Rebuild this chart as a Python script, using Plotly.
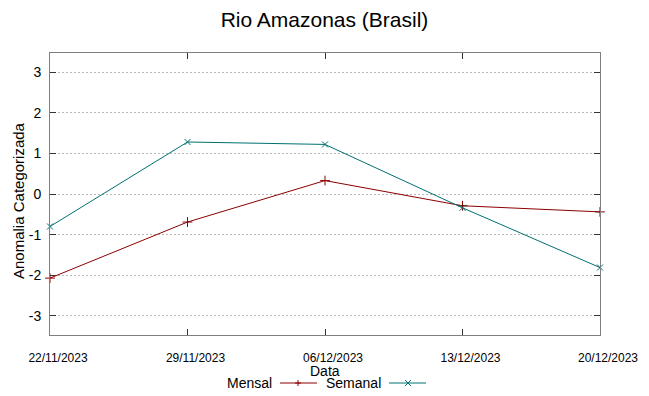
import plotly.graph_objects as go

dates = ["2023-11-22", "2023-11-29", "2023-12-06", "2023-12-13", "2023-12-20"]
date_labels = ["22/11/2023", "29/11/2023", "06/12/2023", "13/12/2023", "20/12/2023"]
mensal = [-2.07, -0.69, 0.33, -0.29, -0.44]
semanal = [-0.80, 1.28, 1.22, -0.34, -1.81]
y_ticks = [-3, -2, -1, 0, 1, 2, 3]

W, H = 649, 396
L, R, T, B = 50, 49, 53, 61
PW, PH = W - L - R, H - T - B

def px(x):
    return (x - L) / PW

def py(y):
    return (H - B - y) / PH

RED = "#8b0000"
TEAL = "#007070"
FONT = "Liberation Sans, Arial, sans-serif"

fig = go.Figure()
fig.add_trace(go.Scatter(x=dates, y=mensal, mode="lines+markers", name="Mensal",
                         line=dict(color=RED, width=1),
                         marker=dict(symbol="cross-thin", size=7, line=dict(color=RED, width=1)),
                         cliponaxis=False, showlegend=False))
fig.add_trace(go.Scatter(x=dates, y=semanal, mode="lines+markers", name="Semanal",
                         line=dict(color=TEAL, width=1),
                         marker=dict(symbol="x-thin", size=6, line=dict(color=TEAL, width=1)),
                         cliponaxis=False, showlegend=False))

shapes = []
annotations = []

# Legend (gnuplot style: text then sample)
legend_y = 383
for label, text_right, x0, x1, xm, color, kind in [
    ("Mensal", 274, 280, 317, 298, RED, "+"),
    ("Semanal", 383, 389, 426, 408, TEAL, "x"),
]:
    annotations.append(dict(text=label, x=px(text_right), y=py(legend_y), xref="paper", yref="paper",
                            xanchor="right", yanchor="middle", showarrow=False,
                            font=dict(family=FONT, size=14, color="black")))
    shapes.append(dict(type="line", xref="paper", yref="paper", x0=px(x0), x1=px(x1),
                       y0=py(legend_y), y1=py(legend_y), line=dict(color=color, width=1)))
    s = 3
    if kind == "+":
        segs = [((xm - s, legend_y), (xm + s, legend_y)), ((xm, legend_y - s), (xm, legend_y + s))]
    else:
        segs = [((xm - s, legend_y - s), (xm + s, legend_y + s)), ((xm - s, legend_y + s), (xm + s, legend_y - s))]
    for (a, b), (c, d) in segs:
        shapes.append(dict(type="line", xref="paper", yref="paper", x0=px(a), y0=py(b),
                           x1=px(c), y1=py(d), line=dict(color=color, width=1)))

annotations.append(dict(text="Data", x=px(325), y=py(371), xref="paper", yref="paper",
                        xanchor="center", yanchor="middle", showarrow=False,
                        font=dict(family=FONT, size=14, color="black")))
annotations.append(dict(text="Anomalia Categorizada", x=px(18), y=py(201), xref="paper", yref="paper",
                        xanchor="center", yanchor="middle", textangle=-90, showarrow=False,
                        font=dict(family=FONT, size=15, color="black")))

fig.update_layout(
    width=W, height=H,
    margin=dict(l=L, r=R, t=T, b=B, autoexpand=False),
    paper_bgcolor="white", plot_bgcolor="white",
    title=dict(text="Rio Amazonas (Brasil)", x=0.5, xanchor="center", y=1 - 20 / H, yanchor="middle",
               font=dict(family=FONT, size=21, color="black")),
    font=dict(family=FONT, color="black"),
    shapes=shapes, annotations=annotations,
    showlegend=False,
)
fig.update_xaxes(type="date", range=[dates[0], dates[-1]], tickvals=dates, ticktext=date_labels,
                 automargin=False,
                 showgrid=False, zeroline=False, showline=True, linecolor="#7f7f7f", linewidth=1,
                 mirror="ticks", ticks="inside", ticklen=6, tickcolor="#333333",
                 tickfont=dict(family=FONT, size=12, color="black"), ticklabelstandoff=12,
                 ticklabelshift=8)
fig.update_yaxes(range=[-3.47, 3.47], tickvals=y_ticks, ticktext=[str(v) for v in y_ticks],
                 automargin=False,
                 showgrid=True, gridcolor="#b8b8b8", griddash="2px,2px", gridwidth=1, zeroline=False,
                 showline=True, linecolor="#7f7f7f", linewidth=1,
                 mirror="ticks", ticks="inside", ticklen=6, tickcolor="#333333",
                 tickfont=dict(family=FONT, size=14, color="black"), ticklabelstandoff=5)

fig.write_html("out.html", config={"displayModeBar": False},
               post_script="document.body.style.margin='0px';document.body.style.overflow='hidden';")
